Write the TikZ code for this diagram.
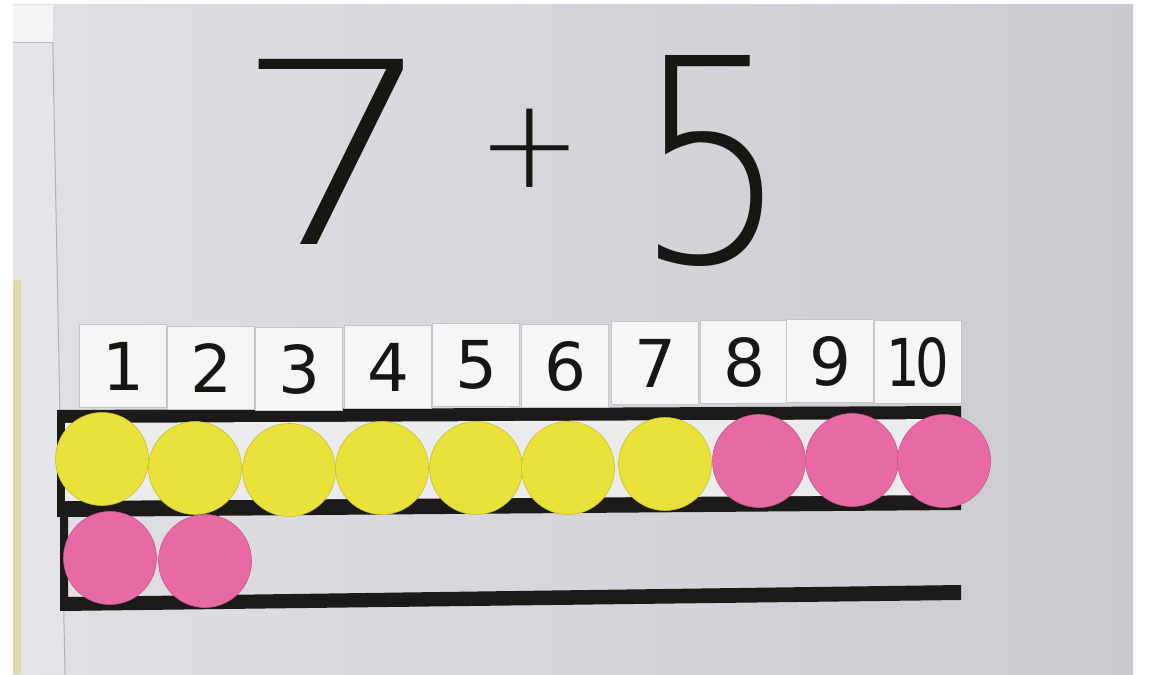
\documentclass[tikz,border=0pt]{standalone}
\usepackage{fontspec}
\setmainfont{DejaVu Sans}
\newfontfamily\penfont{DejaVu Sans ExtraLight}
\usetikzlibrary{positioning}
\definecolor{boardlight}{RGB}{224,224,229}
\definecolor{boarddark}{RGB}{203,202,208}
\definecolor{framegray}{RGB}{229,229,233}
\definecolor{railblack}{RGB}{28,26,24}
\definecolor{channel}{RGB}{236,236,239}
\definecolor{dotyellow}{RGB}{233,226,58}
\definecolor{dotpink}{RGB}{232,106,164}
\definecolor{cardwhite}{RGB}{246,246,248}
\definecolor{marker}{RGB}{24,22,18}
\definecolor{edgeyellow}{RGB}{224,216,168}

\begin{document}
\begin{tikzpicture}[x=1pt, y=-1pt,
  card/.style={rectangle, draw=gray!45, fill=cardwhite, minimum width=87pt,
               minimum height=83pt, inner sep=0pt, text=marker,
               font=\fontsize{66}{66}\selectfont},
  dot/.style={circle, minimum size=93pt, inner sep=0pt, line width=0.6pt},
  yellowdot/.style={dot, fill=dotyellow, draw=dotyellow!85!black},
  pinkdot/.style={dot, fill=dotpink, draw=dotpink!85!black},
  sum/.style={inner sep=0pt, text=marker}
]
\useasboundingbox (0,0) rectangle (1150,674);

% board
\fill[white] (0,0) rectangle (1150,674);
\shade[left color=boardlight, right color=boarddark] (13,5) rectangle (1133,674);
\fill[framegray] (13,5) -- (52,5) -- (65,674) -- (13,674) -- cycle;
\draw[gray!60, line width=1pt] (52,5) -- (65,674);
\fill[white!92!gray] (13,5) rectangle (53,42);
\draw[gray!55] (13,42) -- (53,42);
\fill[edgeyellow] (13,280) rectangle (21,674);

% rails
\fill[railblack] (57,410) -- (961,406) -- (961,510) -- (57,517) -- cycle;
\fill[channel] (65,423) -- (961,419) -- (961,495) -- (65,501) -- cycle;
\fill[railblack] (60,517) -- (68,517) -- (68,597) -- (961,585) -- (961,600) -- (60,611) -- cycle;

% number cards
\foreach \n/\x/\y/\t in {1/123/366/1, 2/211/368/2, 3/299/369/3, 4/388/367/4,
                         5/476/365/5, 6/565/366/6, 7/655/363/7, 8/744/362/8,
                         9/830/361/9, 10/918/362/{\scalebox{0.8}[1]{1\kern-6pt 0}}}
  \node[card] (n\n) at (\x,\y) {\t};

% counters
\foreach \i/\x/\y in {1/102/459, 2/195/468, 3/289/470, 4/382/468, 5/476/468,
                      6/568/468, 7/665/464}
  \node[yellowdot] (d\i) at (\x,\y) {};
\foreach \i/\x/\y in {8/759/461, 9/852/460, 10/944/461}
  \node[pinkdot] (d\i) at (\x,\y) {};
\node[pinkdot] (e1) at (110,558) {};
\node[pinkdot] (e2) at (205,561) {};

% sum
\node[sum, font=\penfont\fontsize{254}{254}\selectfont] (seven) at (336,152) {\scalebox{1.28}[1]{7}};
\node[sum, font=\penfont\fontsize{125}{125}\selectfont] (plus) at (530,148) {+};
\node[sum, font=\penfont\fontsize{284}{284}\selectfont] (five) at (712,161) {\scalebox{0.86}[1]{5}};
\end{tikzpicture}
\end{document}
